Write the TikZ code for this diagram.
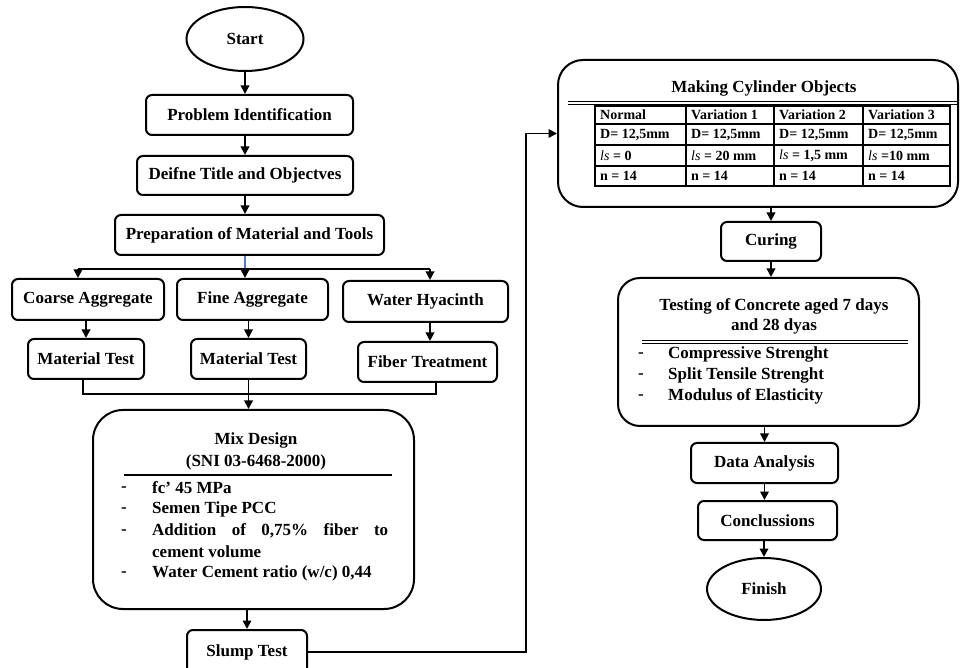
\documentclass[tikz,border=0pt]{standalone}
\usepackage{fontspec}
\setmainfont{Liberation Serif}
\usetikzlibrary{arrows.meta,shapes.geometric}
\begin{document}
\begin{tikzpicture}[x=1pt,y=-1pt,
  lbl/.style={font=\fontsize{17}{21}\selectfont\bfseries, inner sep=0pt},
  box/.style={draw, line width=2pt, rounded corners=6pt, inner sep=0pt, font=\fontsize{17}{21}\selectfont\bfseries, align=center},
  oval/.style={draw, ellipse, line width=2pt, inner sep=0pt, font=\fontsize{17}{21}\selectfont\bfseries},
  arr/.style={line width=1.8pt, -{Triangle[length=8.5pt,width=8.5pt]}},
  conn/.style={line width=1.8pt},
  rule/.style={line width=1.1pt},
  grid/.style={line width=1.1pt},
  tbl/.style={font=\fontsize{14}{16}\selectfont\bfseries, inner sep=0pt, anchor=west},
]
\useasboundingbox (0,0) rectangle (962,668);

% left column
\node[oval, minimum width=117pt, minimum height=64pt] (start) at (245,39) {Start};
\node[box, minimum width=207pt, minimum height=40pt] (prob) at (249.5,115) {Problem Identification};
\node[box, minimum width=216pt, minimum height=39pt] (def) at (245,175.5) {Deifne Title and Objectves};
\node[box, minimum width=269pt, minimum height=40pt] (prep) at (249.5,235) {Preparation of Material and Tools};
\node[box, minimum width=152pt, minimum height=41pt] (coarse) at (88,299.5) {Coarse Aggregate};
\node[box, minimum width=151pt, minimum height=41pt] (fine) at (252.5,299.5) {Fine Aggregate};
\node[box, minimum width=165pt, minimum height=41pt] (water) at (425.5,301.5) {Water Hyacinth};
\node[box, minimum width=116pt, minimum height=40pt] (mt1) at (86,359) {Material Test};
\node[box, minimum width=115pt, minimum height=40pt] (mt2) at (248.5,359) {Material Test};
\node[box, minimum width=139pt, minimum height=40pt] (fiber) at (427.5,362) {Fiber Treatment};
\node[box, rounded corners=30pt, minimum width=321pt, minimum height=199pt] (mix) at (253.5,509.5) {};
\node[box, minimum width=120pt, minimum height=44pt] (slump) at (247,652) {Slump Test};

% mix design content
\node[lbl] (mixt1) at (256,440) {Mix Design};
\node[lbl] (mixt2) at (256,462) {(SNI 03-6468-2000)};
\draw[line width=1.6pt] (124,475) -- (392,475);
\node[lbl, anchor=west] (mixd1) at (121,489) {-};
\node[lbl, anchor=west] (mixd2) at (121,510) {-};
\node[lbl, anchor=west] (mixd3) at (121,532) {-};
\node[lbl, anchor=west] (mixd5) at (121,574) {-};
\node[lbl, anchor=west] (mixi1) at (152,488) {fc' 45 MPa};
\node[lbl, anchor=west] (mixi2) at (152,509) {Semen Tipe PCC};
\node[lbl, anchor=west] (mixi3) at (152,531) {\makebox[236pt][s]{Addition of 0,75\% fiber to}};
\node[lbl, anchor=west] (mixi4) at (152,552) {cement volume};
\node[lbl, anchor=west] (mixi5) at (152,573) {Water Cement ratio (w/c) 0,44};

% right column
\node[box, rounded corners=25pt, minimum width=400pt, minimum height=147pt] (cyl) at (758,133.5) {};
\node[lbl] (cylt) at (764,88) {Making Cylinder Objects};
\draw[rule] (568,101.5) -- (957,101.5);
\draw[rule] (568,104.5) -- (957,104.5);
\draw[grid] (595,106) rectangle (950,186);
\draw[grid] (595,124) -- (950,124) (595,145) -- (950,145) (595,166) -- (950,166);
\draw[grid] (686,106) -- (686,186) (774,106) -- (774,186) (863,106) -- (863,186);
\node[tbl] (c11) at (600,115) {Normal};
\node[tbl] (c12) at (691,115) {Variation 1};
\node[tbl] (c13) at (779,115) {Variation 2};
\node[tbl] (c14) at (868,115) {Variation 3};
\node[tbl] (c21) at (600,134.5) {D= 12,5mm};
\node[tbl] (c22) at (691,134.5) {D= 12,5mm};
\node[tbl] (c23) at (779,134.5) {D= 12,5mm};
\node[tbl] (c24) at (868,134.5) {D= 12,5mm};
\node[tbl] (c31) at (600,155.5) {\textmd{\textit{ls}} = 0};
\node[tbl] (c32) at (691,155.5) {\textmd{\textit{ls}} = 20 mm};
\node[tbl] (c33) at (779,155.5) {\textmd{\textit{ls}} = 1,5 mm};
\node[tbl] (c34) at (868,155.5) {\textmd{\textit{ls}} =10 mm};
\node[tbl] (c41) at (600,176) {n = 14};
\node[tbl] (c42) at (691,176) {n = 14};
\node[tbl] (c43) at (779,176) {n = 14};
\node[tbl] (c44) at (868,176) {n = 14};

\node[box, minimum width=100pt, minimum height=39pt] (curing) at (771,241.5) {Curing};
\node[box, rounded corners=22pt, minimum width=301pt, minimum height=148pt] (test) at (768.5,352) {};
\node[lbl] (testt1) at (774,306) {Testing of Concrete aged 7 days};
\node[lbl] (testt2) at (774,326) {and 28 dyas};
\draw[rule] (642,340.5) -- (908,340.5);
\draw[rule] (642,343.5) -- (908,343.5);
\node[lbl, anchor=west] (testd1) at (638,355) {-};
\node[lbl, anchor=west] (testd2) at (638,376) {-};
\node[lbl, anchor=west] (testd3) at (638,397) {-};
\node[lbl, anchor=west] (testi1) at (668,354) {Compressive Strenght};
\node[lbl, anchor=west] (testi2) at (668,375) {Split Tensile Strenght};
\node[lbl, anchor=west] (testi3) at (668,396) {Modulus of Elasticity};

\node[box, minimum width=147pt, minimum height=40pt] (data) at (764.5,463) {Data Analysis};
\node[box, minimum width=139pt, minimum height=39pt] (concl) at (767.5,520.5) {Conclussions};
\node[oval, minimum width=114pt, minimum height=62pt] (finish) at (764,589) {Finish};

% connectors
\draw[arr] (start.south) -- (start.south |- prob.north);
\draw[arr] (prob.south -| start.south) -- (def.north -| start.south);
\draw[arr] (def.south -| start.south) -- (prep.north -| start.south);
\coordinate (bus) at (245,269);
\coordinate (busL) at (78,269);
\coordinate (busR) at (430,269);
\draw[line width=1.6pt, color={rgb,255:red,70;green,130;blue,220}] (prep.south -| bus) -- (bus);
\draw[conn] (busL) -- (busR);
\draw[arr] (busL) -- (busL |- coarse.north);
\draw[arr] (bus) -- (bus |- fine.north);
\draw[arr] (busR) -- (busR |- water.north);
\draw[arr] (coarse.south -| mt1.north) -- (mt1.north);
\draw[arr] (fine.south -| mt2.north) -- (mt2.north);
\draw[arr] (water.south -| busR) -- (fiber.north -| busR);
\coordinate (cL) at (83,394);
\coordinate (cR) at (436,394);
\draw[conn] (mt1.south -| cL) -- (cL) -- (cR) -- (fiber.south -| cR);
\draw[arr] (mt2.south) -- (mt2.south |- mix.north);
\draw[arr] (mix.south -| slump.north) -- (slump.north);
\coordinate (turn) at (526,133.5);
\draw[arr] (slump.east) -| (turn) -- (cyl.west);
\draw[arr] (cyl.south -| curing.north) -- (curing.north);
\draw[arr] (curing.south) -- (curing.south |- test.north);
\draw[arr] (test.south -| data.north) -- (data.north);
\draw[arr] (data.south) -- (data.south |- concl.north);
\draw[arr] (concl.south -| finish.north) -- (finish.north);
\end{tikzpicture}
\end{document}
